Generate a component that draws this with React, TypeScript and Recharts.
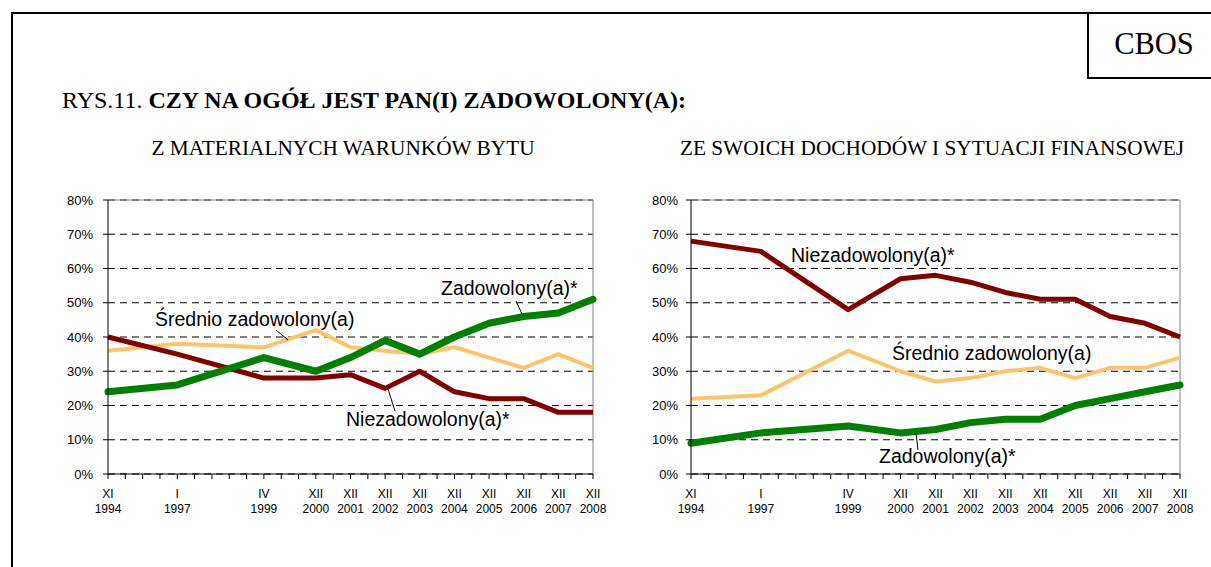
import { LineChart, Line, XAxis, YAxis, CartesianGrid, ReferenceLine } from "recharts";

const surveys = [
  "XI 1994", "I 1997", "IV 1999", "XII 2000", "XII 2001", "XII 2002",
  "XII 2003", "XII 2004", "XII 2005", "XII 2006", "XII 2007", "XII 2008",
];

// Excel-style category axis: the survey dates sit on a grid of blank slots
const axisSlots = [
  "XI 1994", "", "", "", "I 1997", "", "", "", "", "IV 1999", "", "",
  "XII 2000", "", "XII 2001", "", "XII 2002", "", "XII 2003", "",
  "XII 2004", "", "XII 2005", "", "XII 2006", "", "XII 2007", "", "XII 2008",
];

const yTicks = [0, 10, 20, 30, 40, 50, 60, 70, 80];

// Z materialnych warunków bytu
const matZadowolony = [24, 26, 34, 30, 34, 39, 35, 40, 44, 46, 47, 51];
const matSrednio = [36, 38, 37, 42, 37, 36, 35, 37, 34, 31, 35, 31];
const matNiezadowolony = [40, 35, 28, 28, 29, 25, 30, 24, 22, 22, 18, 18];

// Ze swoich dochodów i sytuacji finansowej
const finZadowolony = [9, 12, 14, 12, 13, 15, 16, 16, 20, 22, 24, 26];
const finSrednio = [22, 23, 36, 30, 27, 28, 30, 31, 28, 31, 31, 34];
const finNiezadowolony = [68, 65, 48, 57, 58, 56, 53, 51, 51, 46, 44, 40];

const GREEN = "#008000";
const MAROON = "#800000";
const PEACH = "#FFC469";
const SANS = "'Liberation Sans', Arial, sans-serif";
const SERIF = "'Liberation Serif', 'Times New Roman', serif";

function buildRows(zad: number[], sr: number[], nie: number[]) {
  return axisSlots.map((label, slot) => {
    const i = label ? surveys.indexOf(label) : -1;
    return {
      slot,
      zad: i >= 0 ? zad[i] : null,
      sr: i >= 0 ? sr[i] : null,
      nie: i >= 0 ? nie[i] : null,
    };
  });
}

const matRows = buildRows(matZadowolony, matSrednio, matNiezadowolony);
const finRows = buildRows(finZadowolony, finSrednio, finNiezadowolony);

function SlotTick(props: any) {
  const { x, y, payload } = props;
  const label = axisSlots[payload.value];
  if (!label) return <g />;
  const [month, year] = label.split(" ");
  return (
    <g>
      <text x={x} y={y + 17} textAnchor="middle" fontFamily={SANS} fontSize={12} fill="#000">{month}</text>
      <text x={x} y={y + 32} textAnchor="middle" fontFamily={SANS} fontSize={12} fill="#000">{year}</text>
    </g>
  );
}

function Panel({ rows, left, width, gap }: { rows: any[]; left: number; width: number; gap: number }) {
  return (
    <div style={{ position: "absolute", left, top: 190 }}>
      <LineChart width={width} height={329} data={rows} margin={{ top: 10, right: 20, bottom: 5, left: 8 }}>
        <ReferenceLine y={80} stroke="#808080" />
        <ReferenceLine x={28} stroke="#808080" />
        <CartesianGrid vertical={false} stroke="#000" strokeDasharray="7 5" />
        <XAxis
          dataKey="slot"
          type="category"
          scale="point"
          interval={0}
          height={40}
          tickSize={5}
          tickMargin={2}
          axisLine={{ stroke: "#000" }}
          tickLine={{ stroke: "#000" }}
          tick={<SlotTick />}
        />
        <YAxis
          domain={[0, 80]}
          ticks={yTicks}
          interval={0}
          width={60}
          tickSize={5}
          tickMargin={gap}
          axisLine={{ stroke: "#000" }}
          tickLine={{ stroke: "#000" }}
          tickFormatter={(v: number) => `${v}%`}
          tick={{ fill: "#000", fontSize: 13, fontFamily: SANS }}
        />
        <Line dataKey="sr" stroke={PEACH} strokeWidth={4} dot={false} connectNulls strokeLinejoin="round" isAnimationActive={false} />
        <Line dataKey="nie" stroke={MAROON} strokeWidth={5} dot={false} connectNulls strokeLinejoin="round" isAnimationActive={false} />
        <Line dataKey="zad" stroke={GREEN} strokeWidth={7} dot={false} connectNulls strokeLinejoin="round" strokeLinecap="round" isAnimationActive={false} />
      </LineChart>
    </div>
  );
}

export default function App() {
  return (
    <div style={{ position: "absolute", left: 0, top: 0, width: 1211, height: 567, background: "#fff", overflow: "hidden" }}>
      <Panel rows={matRows} left={40} width={573} gap={10} />
      <Panel rows={finRows} left={623} width={577} gap={8} />
      <svg width={1211} height={567} style={{ position: "absolute", left: 0, top: 0, pointerEvents: "none" }}>
        {/* page frame and CBOS box */}
        <line x1={11} y1={13} x2={1211} y2={13} stroke="#000" strokeWidth={2} />
        <line x1={12} y1={12} x2={12} y2={567} stroke="#000" strokeWidth={2} />
        <line x1={1088} y1={12} x2={1088} y2={78} stroke="#000" strokeWidth={2} />
        <line x1={1087} y1={78} x2={1211} y2={78} stroke="#000" strokeWidth={2} />
        <text x={1154} y={54} textAnchor="middle" fontFamily={SERIF} fontSize={30.5}>CBOS</text>

        <text x={62} y={108} fontFamily={SERIF} fontSize={24}>
          RYS.11. <tspan fontWeight="bold">CZY NA OGÓŁ JEST PAN(I) ZADOWOLONY(A):</tspan>
        </text>
        <text x={343} y={155} textAnchor="middle" fontFamily={SERIF} fontSize={21.3}>Z MATERIALNYCH WARUNKÓW BYTU</text>
        <text x={932} y={155} textAnchor="middle" fontFamily={SERIF} fontSize={21.3}>ZE SWOICH DOCHODÓW I SYTUACJI FINANSOWEJ</text>

        {/* series labels and leader lines */}
        <g fontFamily={SANS} fontSize={19.5} fill="#000">
          <text x={441} y={295}>Zadowolony(a)*</text>
          <text x={155} y={326}>Średnio zadowolony(a)</text>
          <text x={346} y={426}>Niezadowolony(a)*</text>
          <text x={791} y={262}>Niezadowolony(a)*</text>
          <text x={892} y={360}>Średnio zadowolony(a)</text>
          <text x={879} y={463}>Zadowolony(a)*</text>
        </g>
        <g stroke="#000" strokeWidth={1}>
          <line x1={516} y1={301} x2={522} y2={314} />
          <line x1={276} y1={330} x2={288} y2={340} />
          <line x1={388} y1={389} x2={395} y2={411} />
          <line x1={916} y1={433} x2={918} y2={450} />
        </g>
      </svg>
    </div>
  );
}
